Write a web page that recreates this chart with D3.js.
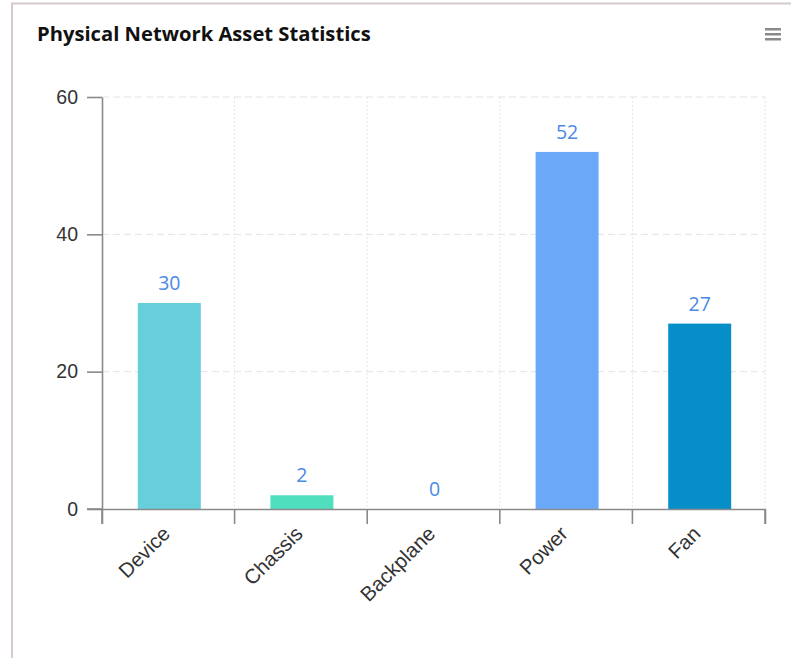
<!DOCTYPE html>
<html>
<head>
<meta charset="utf-8">
<script src="https://cdn.jsdelivr.net/npm/d3@7"></script>
<style>
	body { margin: 0; background: #fff; }
	svg { display: block; font-family: "Open Sans", "Noto Sans", sans-serif; }
</style>
</head>
<body>
<svg class="bar_chart" width="791" height="658"></svg>
<script>
var categories = ["Device", "Chassis", "Backplane", "Power", "Fan"];
var counts = [30, 2, 0, 52, 27];
var barColors = ["#66cfdb", "#50dfbe", "#8fd3e8", "#6ba8f8", "#068ec8"];
var yTicks = [0, 20, 40, 60];
var title = "Physical Network Asset Statistics";

var svg = d3.select(".bar_chart");
var margin = { top: 97, right: 26, bottom: 149, left: 102 };
var width = +svg.attr("width") - margin.left - margin.right;
var height = +svg.attr("height") - margin.top - margin.bottom;

// card frame
svg.append("rect")
	.attr("x", 12).attr("y", 3.5)
	.attr("width", 900).attr("height", 800)
	.attr("fill", "#fff")
	.attr("stroke", "#d5cbcb")
	.attr("stroke-width", 2);

svg.append("text")
	.attr("x", 37).attr("y", 41)
	.attr("font-size", 20.2)
	.attr("font-weight", "bold")
	.attr("fill", "#111")
	.text(title);

// menu icon
svg.append("g").selectAll("rect")
	.data([0, 1, 2])
	.enter().append("rect")
		.attr("x", 765).attr("y", (d) => { return 28 + d * 5; })
		.attr("width", 16).attr("height", 2.5)
		.attr("fill", "#8a8a8a");

var data = categories.map((c, i) => { return {name: c, value: counts[i], color: barColors[i]}; });

var x = d3.scaleBand().domain(categories).range([0, width]).paddingInner(0).paddingOuter(0);
var y = d3.scaleLinear().domain([0, 60]).range([height, 0]);

var g = svg.append("g").attr("transform", "translate(" + margin.left + "," + margin.top + ")");

// horizontal dashed grid
g.append("g").selectAll("line")
	.data(yTicks.filter((t) => { return t > 0; }))
	.enter().append("line")
		.attr("x1", 0).attr("x2", width)
		.attr("y1", (d) => { return y(d); }).attr("y2", (d) => { return y(d); })
		.attr("stroke", "#e3e3e3")
		.attr("stroke-dasharray", "7,4");

// vertical dotted grid on band boundaries
g.append("g").selectAll("line")
	.data(categories)
	.enter().append("line")
		.attr("x1", (d) => { return x(d) + x.bandwidth(); })
		.attr("x2", (d) => { return x(d) + x.bandwidth(); })
		.attr("y1", 0).attr("y2", height)
		.attr("stroke", "#e6e6e6")
		.attr("stroke-dasharray", "2,2");

// bars
var barW = x.bandwidth() * 0.475;
g.selectAll(".bar")
	.data(data)
	.enter().append("rect")
		.attr("class", "bar")
		.attr("x", (d) => { return x(d.name) + (x.bandwidth() - barW) / 2 + 1; })
		.attr("y", (d) => { return y(d.value); })
		.attr("width", barW)
		.attr("height", (d) => { return height - y(d.value); })
		.attr("fill", (d) => { return d.color; });

g.selectAll(".value")
	.data(data)
	.enter().append("text")
		.attr("class", "value")
		.attr("x", (d) => { return x(d.name) + x.bandwidth() / 2 + 1; })
		.attr("y", (d) => { return y(d.value) - 13; })
		.attr("text-anchor", "middle")
		.attr("font-size", 19.5)
		.attr("fill", "#4a8ae8")
		.text((d) => { return d.value; });

// y axis
var yAxis = g.append("g")
	.call(d3.axisLeft(y).tickValues(yTicks).tickSize(15).tickPadding(9).tickSizeOuter(0));
yAxis.selectAll("line, path").attr("stroke", "#8a8a8a").attr("stroke-width", 1.6);
yAxis.selectAll("text").attr("font-size", 19.5).attr("fill", "#333").attr("font-family", "inherit");

// x axis with ticks on band boundaries
var xAxis = g.append("g")
	.attr("transform", "translate(0," + height + ")")
	.call(d3.axisBottom(x).tickSize(15).tickSizeOuter(15));
xAxis.select("path").attr("stroke", "#8a8a8a").attr("stroke-width", 1.6);
xAxis.selectAll(".tick line")
	.attr("x1", x.bandwidth() / 2 - x.bandwidth()).attr("x2", x.bandwidth() / 2 - x.bandwidth())
	.attr("stroke", "#8a8a8a").attr("stroke-width", 1.6);
xAxis.append("line")
	.attr("x1", width).attr("x2", width).attr("y1", 0).attr("y2", 15)
	.attr("stroke", "#8a8a8a").attr("stroke-width", 1.6);
xAxis.append("line")
	.attr("x1", -15).attr("x2", 0).attr("y1", 0).attr("y2", 0)
	.attr("stroke", "#8a8a8a").attr("stroke-width", 1.6);
xAxis.selectAll("text")
	.attr("font-size", 20.5).attr("fill", "#333").attr("font-family", "inherit")
	.attr("text-anchor", "end")
	.attr("x", 0).attr("y", 0).attr("dy", 0)
	.attr("transform", "translate(3,26) rotate(-45)");
</script>
</body>
</html>
